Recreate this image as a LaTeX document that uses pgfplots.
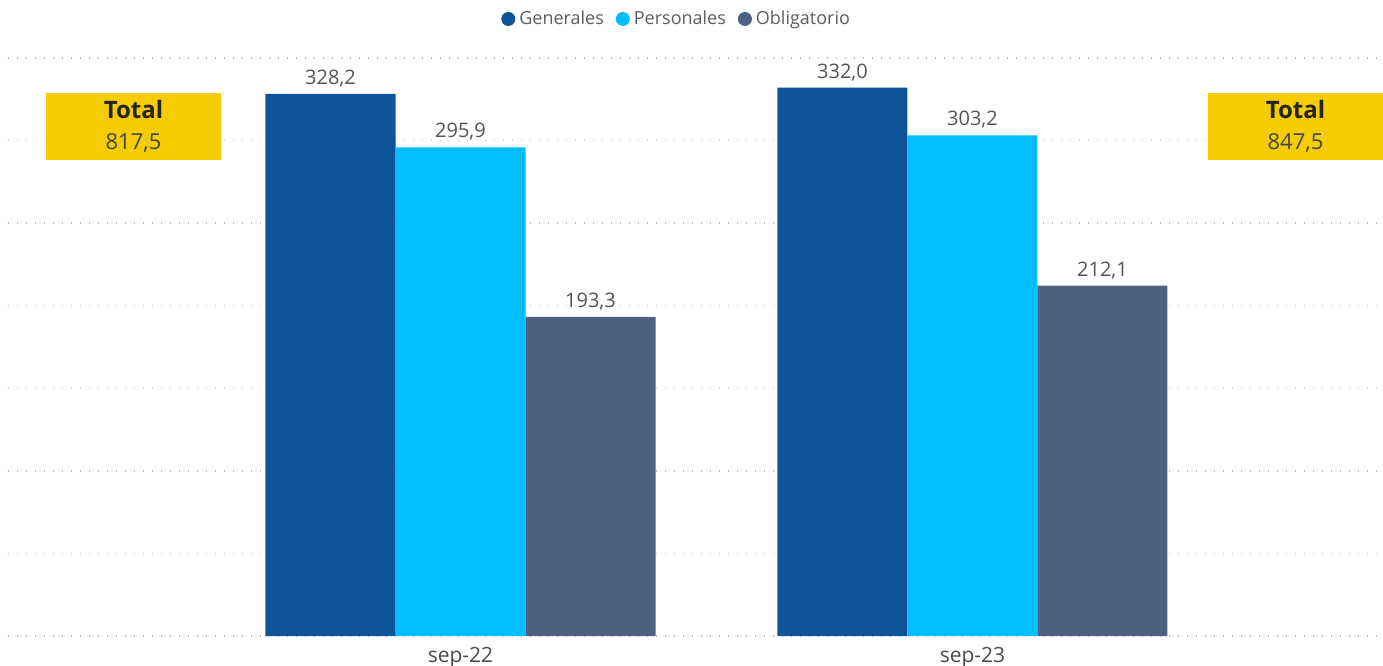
\documentclass[border=0pt]{standalone}
\usepackage{pgfplots}
\pgfplotsset{compat=1.18}
\usepackage{fontspec}
\setmainfont{Open Sans}
\definecolor{gen}{RGB}{13,84,153}
\definecolor{per}{RGB}{0,190,255}
\definecolor{obl}{RGB}{78,97,131}
\definecolor{tot}{RGB}{245,204,0}
\definecolor{lbl}{RGB}{96,94,92}
\definecolor{grd}{RGB}{190,190,190}
\definecolor{dark}{RGB}{37,36,35}

\begin{document}
\begin{tikzpicture}
\useasboundingbox (0,0) rectangle (691.5pt,332.5pt);
\begin{axis}[
  at={(4pt,14.5pt)}, anchor=south west,
  scale only axis, width=687.5pt, height=289pt,
  xmin=-0.8838, xmax=1.8018, ymin=0, ymax=350,
  axis line style={draw=none}, tick style={draw=none},
  ytick={0,50,...,350}, yticklabels={},
  ymajorgrids, grid style={grd, line width=0.7pt, dash pattern=on 0.7pt off 3.8pt},
  xtick={0,1}, xticklabels={sep-22,sep-23},
  x tick label style={font=\fontsize{10.5}{12}\selectfont, text=lbl!80!black, anchor=base, yshift=-9pt},
  ybar, bar width=65pt,
  nodes near coords,
  /pgf/number format/.cd, fixed, fixed zerofill, precision=1, use comma, assume math mode=true,
  /pgfplots/.cd,
  every node near coord/.append style={font=\fontsize{10}{12}\selectfont, text=lbl!90!black, anchor=base, inner sep=0pt, yshift=4.8pt},
  legend columns=3,
  legend style={draw=none, at={(0.487,1.0675)}, anchor=center, font=\fontsize{9}{11}\selectfont, text=lbl,
    /tikz/every even column/.append style={column sep=4pt}},
  legend image code/.code={\fill[#1] (3.5pt,0pt) circle (3.5pt);},
]
\addplot[fill=gen, draw=none, bar shift=-65pt] coordinates {(0,328.2) (1,332.0)};
\addplot[fill=per, draw=none, bar shift=0pt] coordinates {(0,295.9) (1,303.2)};
\addplot[fill=obl, draw=none, bar shift=65pt] coordinates {(0,193.3) (1,212.1)};
\legend{Generales,Personales,Obligatorio}

\node[fill=tot, minimum width=87.5pt, minimum height=33.5pt, inner sep=0pt] (t1) at (axis cs:-0.6387,308.5) {};
\node[anchor=base, font=\bfseries\fontsize{12}{14}\selectfont, text=dark] at ([yshift=4.1pt]t1.center) {Total};
\node[anchor=base, font=\fontsize{11}{13}\selectfont, text=dark!85] at ([yshift=-11.4pt]t1.center) {817,5};
\node[fill=tot, minimum width=87.5pt, minimum height=33.5pt, inner sep=0pt] (t2) at (axis cs:1.6309,308.5) {};
\node[anchor=base, font=\bfseries\fontsize{12}{14}\selectfont, text=dark] at ([yshift=4.1pt]t2.center) {Total};
\node[anchor=base, font=\fontsize{11}{13}\selectfont, text=dark!85] at ([yshift=-11.4pt]t2.center) {847,5};
\end{axis}
\end{tikzpicture}
\end{document}
